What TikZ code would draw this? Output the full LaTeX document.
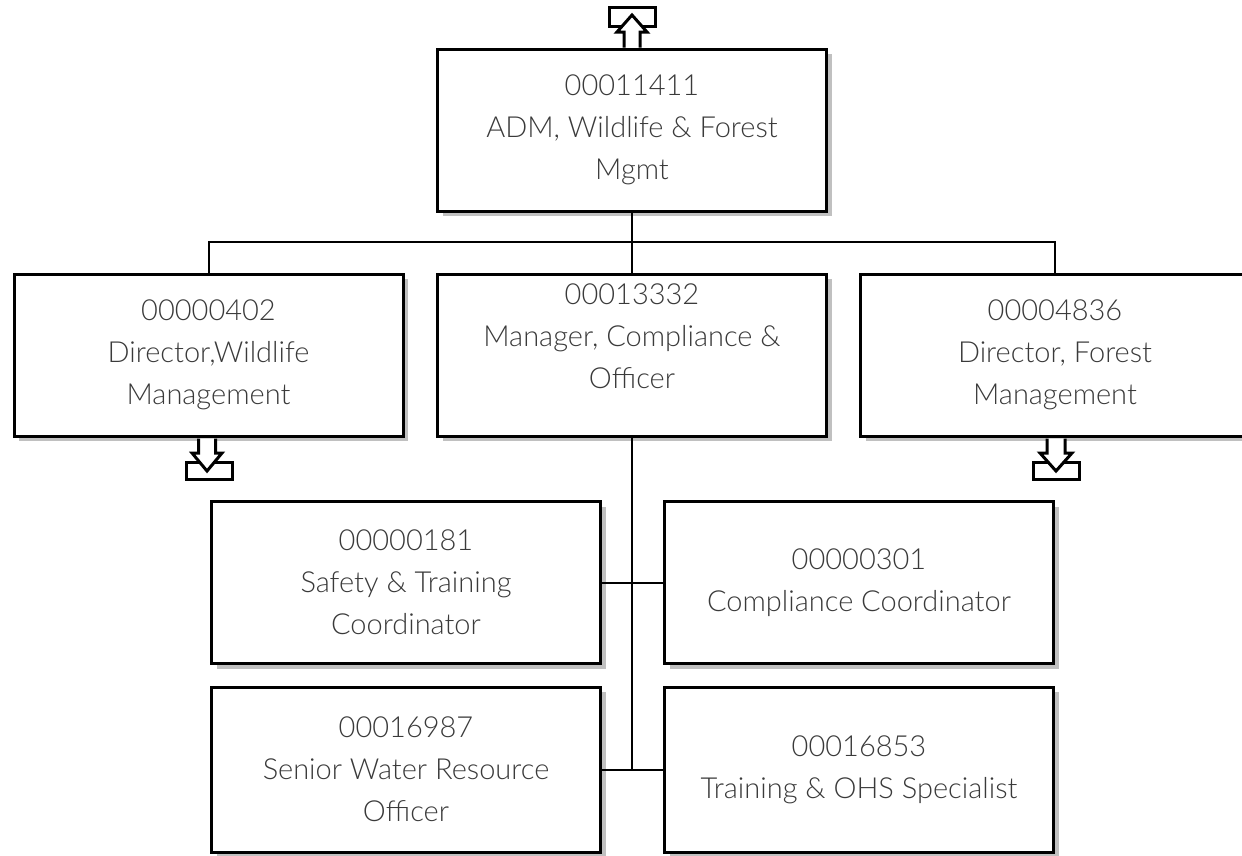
\documentclass[tikz,border=0pt]{standalone}
\usepackage{fontspec}
\setmainfont{Lato Light}
\usetikzlibrary{shadows}
\definecolor{shadowgray}{HTML}{C0C0C0}
\definecolor{txtgray}{HTML}{3A3A3A}
\begin{document}
\begin{tikzpicture}[x=1pt,y=-1pt,
  box/.style={draw=black, line width=3pt, fill=white, minimum width=389pt, minimum height=162pt,
    inner sep=0pt, align=center, text=txtgray, font=\fontsize{29}{42}\selectfont,
    general shadow={fill=shadowgray, shadow xshift=5pt, shadow yshift=-5pt}},
  txt/.style={align=center, text=txtgray, font=\fontsize{29}{42}\selectfont, inner sep=0pt},
  conn/.style={draw=black, line width=2pt},
  icon/.style={draw=black, line width=3pt, fill=white, line join=miter}]
\useasboundingbox (0,0) rectangle (1242,855);
\fill[white] (0,0) rectangle (1242,855);

\node[box] (top) at (632,130) {00011411\\ADM, Wildlife \& Forest\\Mgmt};
\node[box] (dwl) at (208.5,355) {00000402\\Director,Wildlife\\Management};
\node[box] (mgr) at (632,355) {};
\node[txt] (mgrtxt) at (632,336) {00013332\\Manager, Compliance \&\\Officer};
\node[box] (dfm) at (1055,355) {00004836\\Director, Forest\\Management};
\node[box] (stc) at (406,582.5) {00000181\\Safety \& Training\\Coordinator};
\node[box] (cco) at (859,582.5) {00000301\\Compliance Coordinator};
\node[box, minimum height=165pt] (swr) at (406,769.5) {00016987\\Senior Water Resource\\Officer};
\node[box, minimum height=165pt] (tos) at (859,769.5) {00016853\\Training \& OHS Specialist};

\coordinate (bus) at (632,242);
\draw[conn] (top.south) -- (mgr.north);
\draw[conn] (dwl.north) |- (bus) -| (dfm.north);
\draw[conn] (mgr.south) -- (mgr.south |- swr.east);
\draw[conn] (stc.east) -- (cco.west);
\draw[conn] (swr.east) -- (tos.west);

% up arrow above top box
\draw[icon] (609,7) rectangle (655,26);
\draw[icon] (624,47.5) -- (624,32) -- (617,32) -- (632,15) -- (647,32) -- (640,32) -- (640,47.5);
% down arrows
\draw[icon] (186,462) rectangle (232,479);
\draw[icon] (198.5,438.5) -- (198.5,453) -- (192,453) -- (207,471) -- (222,453) -- (215.5,453) -- (215.5,438.5);
\draw[icon] (1033,462) rectangle (1079,479);
\draw[icon] (1047,438.5) -- (1047,453) -- (1040,453) -- (1056,471) -- (1072,453) -- (1065,453) -- (1065,438.5);
\end{tikzpicture}
\end{document}
